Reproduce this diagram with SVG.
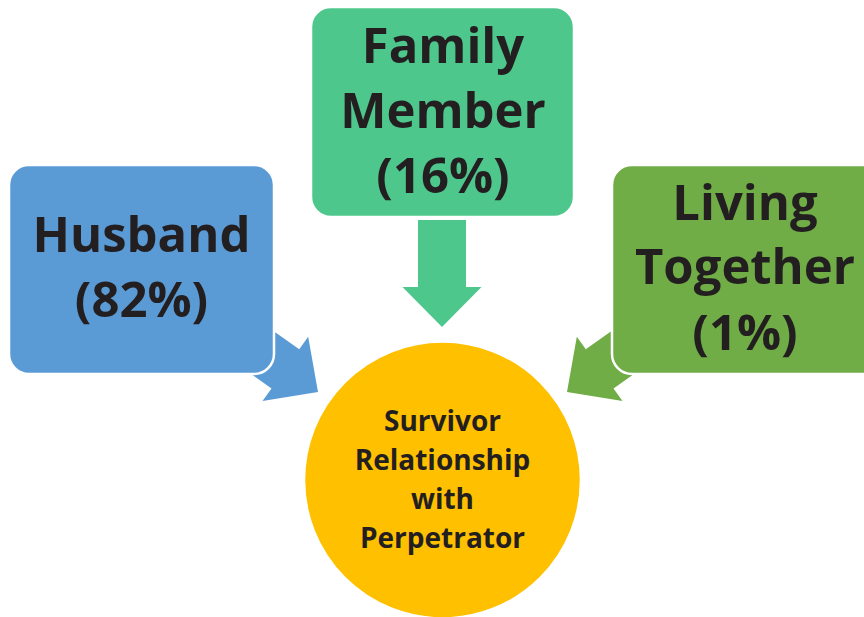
<svg xmlns="http://www.w3.org/2000/svg" width="864" height="617" viewBox="0 0 864 617">
<style>
.box{stroke:#ffffff;stroke-width:2.5}
.big{font-family:"Open Sans",Lato,"Liberation Sans",sans-serif;font-weight:bold;font-size:49px;fill:#231f20;text-anchor:middle}
.small{font-family:"Open Sans",Lato,"Liberation Sans",sans-serif;font-weight:bold;font-size:28px;fill:#231f20;text-anchor:middle}
</style>
<defs>
<path id="arr" d="M-24,-107 L24,-107 L24,-40 L39.5,-40 L0,0 L-39.5,-40 L-24,-40 Z"/>
</defs>
<rect width="864" height="617" fill="#ffffff"/>
<g id="connectors">
<use href="#arr" fill="#5b9bd5" transform="translate(318,392) rotate(-54.7)"/>
<use href="#arr" fill="#4ec78c" transform="translate(442,327)"/>
<use href="#arr" fill="#70ad47" transform="translate(567,392) rotate(54.7)"/>
</g>
<g id="husband">
<rect class="box" x="9" y="165" width="265" height="209" rx="20" fill="#5b9bd5"/>
<text class="big" x="141.5" y="252">Husband</text>
<text class="big" x="141.5" y="317">(82%)</text>
</g>
<g id="family">
<rect class="box" x="311" y="7" width="263" height="210" rx="20" fill="#4ec78c"/>
<text class="big" x="443" y="63">Family</text>
<text class="big" x="443" y="128">Member</text>
<text class="big" x="443" y="193">(16%)</text>
</g>
<g id="living">
<rect class="box" x="612" y="165" width="272" height="209" rx="20" fill="#70ad47"/>
<text class="big" x="745" y="220">Living</text>
<text class="big" x="745" y="284">Together</text>
<text class="big" x="745" y="350">(1%)</text>
</g>
<g id="survivor">
<circle class="box" cx="442.5" cy="480" r="138.5" fill="#ffc000"/>
<text class="small" x="442.5" y="431">Survivor</text>
<text class="small" x="442.5" y="470">Relationship</text>
<text class="small" x="442.5" y="509">with</text>
<text class="small" x="442.5" y="548">Perpetrator</text>
</g>
</svg>
